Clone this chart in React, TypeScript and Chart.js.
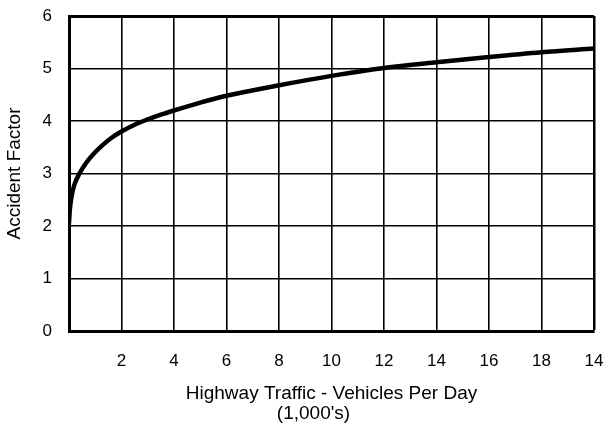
import React, { useEffect, useRef } from "react";
import { Chart, registerables } from "chart.js";

Chart.register(...registerables);

const trafficK = [0, 0.03, 0.1, 0.2, 0.4, 0.65, 0.95, 1.3, 1.65, 2, 2.5, 3, 3.5, 4, 5, 6, 8, 10, 12, 14, 16, 18, 20];
const accidentFactor = [2.05, 2.3, 2.57, 2.78, 3.0, 3.2, 3.38, 3.55, 3.69, 3.8, 3.93, 4.03, 4.12, 4.2, 4.35, 4.48, 4.68, 4.86, 5.01, 5.12, 5.22, 5.31, 5.38];
const xTickValues = [0, 2, 4, 6, 8, 10, 12, 14, 16, 18, 20];
const xTickLabels = ["", "2", "4", "6", "8", "10", "12", "14", "16", "18", "14"];
const yTickLabels = ["0", "1", "2", "3", "4", "5", "6"];
const xTitle = ["Highway Traffic - Vehicles Per Day", "(1,000's)"];
const yTitle = "Accident Factor";

const FONT = "'Liberation Sans', Arial, Helvetica, sans-serif";

const xTitlePlugin = {
  id: "xTitleLines",
  afterDraw(chart: any) {
    const { ctx, chartArea } = chart;
    const cx = (chartArea.left + chartArea.right) / 2;
    ctx.save();
    ctx.fillStyle = "#000";
    ctx.font = `19px ${FONT}`;
    ctx.textAlign = "center";
    ctx.textBaseline = "alphabetic";
    ctx.fillText(xTitle[0], cx, chartArea.bottom + 67.5);
    ctx.fillText(xTitle[1], cx - 18, chartArea.bottom + 87.5);
    ctx.restore();
  },
};

export default function App() {
  const ref = useRef<HTMLCanvasElement | null>(null);
  useEffect(() => {
    if (!ref.current) return;
    const chart = new Chart(ref.current, {
      type: "line",
      data: {
        datasets: [
          {
            data: trafficK.map((x, i) => ({ x, y: accidentFactor[i] })),
            borderColor: "#000",
            borderWidth: 4.5,
            pointRadius: 0,
            cubicInterpolationMode: "monotone",
            fill: false,
          },
        ],
      },
      plugins: [xTitlePlugin],
      options: {
        responsive: false,
        animation: false,
        layout: { padding: { top: 16, right: 11, left: 0, bottom: 0 } },
        plugins: { legend: { display: false }, tooltip: { enabled: false } },
        scales: {
          x: {
            type: "linear",
            min: 0,
            max: 20,
            afterBuildTicks: (s: any) => {
              s.ticks = xTickValues.map((v) => ({ value: v }));
            },
            afterFit: (s: any) => {
              s.height = 95;
              s.paddingLeft = 0;
              s.paddingRight = 0;
            },
            ticks: {
              color: "#000",
              font: { family: FONT, size: 17 },
              padding: 20,
              maxRotation: 0,
              autoSkip: false,
              callback: (v: any) => {
                const i = xTickValues.indexOf(Number(v));
                return i >= 0 ? xTickLabels[i] : "";
              },
            },
            grid: {
              color: "#000",
              lineWidth: (c: any) => (c.tick && c.tick.value === 20 ? 2.5 : 1.6),
              drawTicks: false,
            },
            border: { display: true, color: "#000", width: 3 },
            title: { display: false },
          },
          y: {
            min: 0,
            max: 6,
            afterFit: (s: any) => {
              s.width = 69;
              s.paddingTop = 0;
              s.paddingBottom = 0;
            },
            ticks: {
              stepSize: 1,
              color: "#000",
              font: { family: FONT, size: 17 },
              padding: 17,
              callback: (v: any) => yTickLabels[Number(v)] ?? "",
            },
            grid: {
              color: "#000",
              lineWidth: (c: any) => (c.tick && c.tick.value === 6 ? 3 : 1.6),
              drawTicks: false,
            },
            border: { display: true, color: "#000", width: 3 },
            title: {
              display: true,
              text: yTitle,
              color: "#000",
              font: { family: FONT, size: 19 },
              padding: { top: 3, bottom: 0 },
            },
          },
        },
      },
    });
    return () => chart.destroy();
  }, []);
  return (
    <div style={{ position: "absolute", left: 0, top: 0, width: 605, height: 426, background: "#fff" }}>
      <canvas ref={ref} width={605} height={426} />
    </div>
  );
}
